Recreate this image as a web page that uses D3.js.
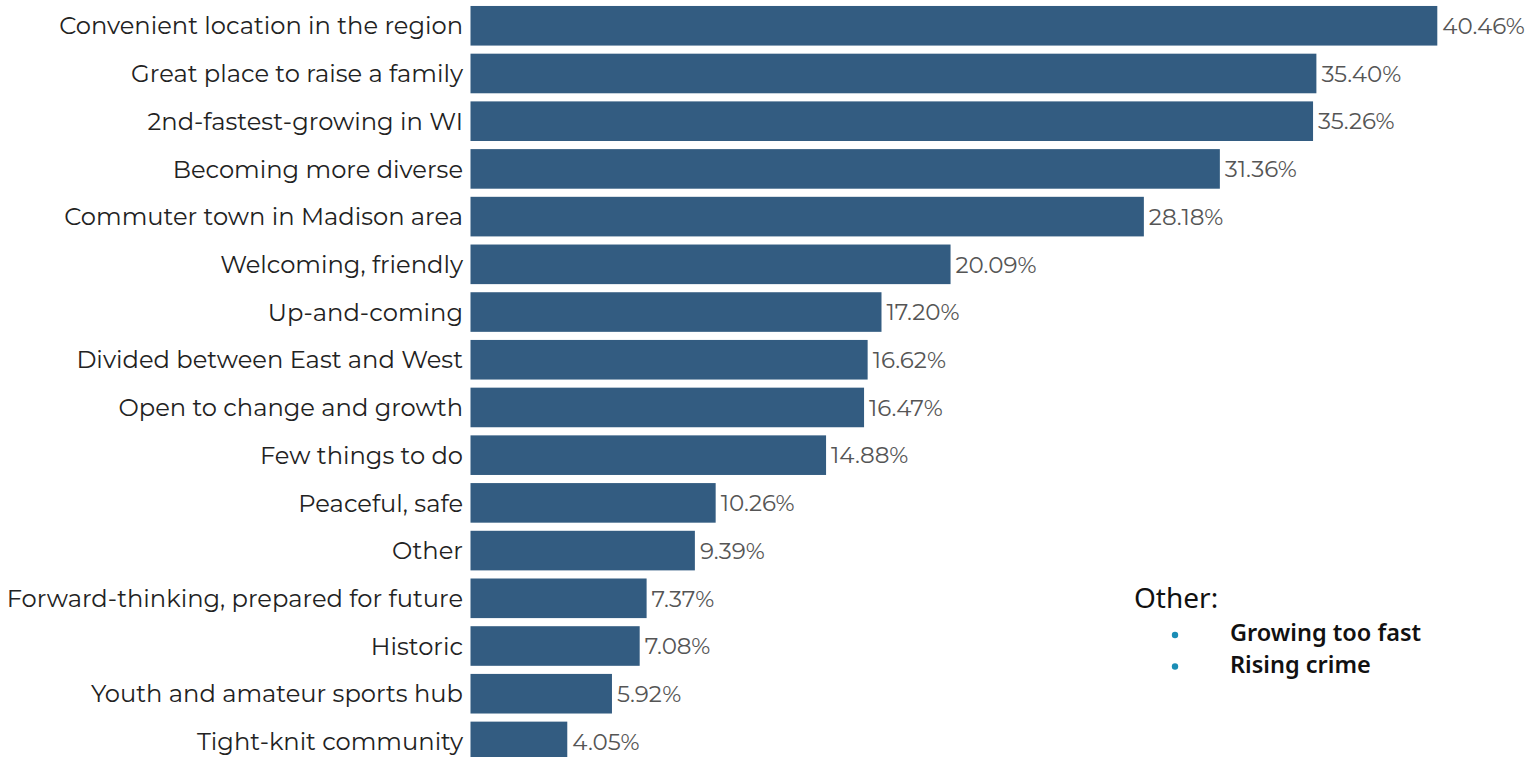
<!DOCTYPE html>
<html>
<head>
<meta charset="utf-8">
<script src="https://cdn.jsdelivr.net/npm/d3@7"></script>
<style>
  html, body { margin: 0; padding: 0; background: #fff; }
  svg { display: block; }
</style>
</head>
<body>
<svg id="chart" width="1540" height="757"></svg>
<script>
// Survey responses: how residents describe the city (share of respondents, %)
const categories = [
  "Convenient location in the region",
  "Great place to raise a family",
  "2nd-fastest-growing in WI",
  "Becoming more diverse",
  "Commuter town in Madison area",
  "Welcoming, friendly",
  "Up-and-coming",
  "Divided between East and West",
  "Open to change and growth",
  "Few things to do",
  "Peaceful, safe",
  "Other",
  "Forward-thinking, prepared for future",
  "Historic",
  "Youth and amateur sports hub",
  "Tight-knit community"
];
const values = [40.46, 35.40, 35.26, 31.36, 28.18, 20.09, 17.20, 16.62, 16.47, 14.88, 10.26, 9.39, 7.37, 7.08, 5.92, 4.05];
const otherTitle = "Other:";
const otherItems = ["Growing too fast", "Rising crime"];

const svg = d3.select("#chart");

const x = d3.scaleLinear().domain([0, 40.46]).range([470.5, 1437.3]);
const y = d3.scaleBand()
  .domain(categories)
  .range([1.2, 766.0])
  .paddingInner(0.17)
  .paddingOuter(0.1);

const labelFont = "Montserrat, 'DejaVu Sans', sans-serif";

const rows = svg.append("g").selectAll("g")
  .data(categories.map((c, i) => ({ c, v: values[i] })))
  .join("g");

rows.append("rect")
  .attr("x", x(0))
  .attr("y", d => y(d.c))
  .attr("width", d => x(d.v) - x(0))
  .attr("height", y.bandwidth())
  .attr("fill", "#335c81");

rows.append("text")
  .attr("x", 463)
  .attr("y", d => y(d.c) + y.bandwidth() / 2)
  .attr("dy", "0.36em")
  .attr("text-anchor", "end")
  .attr("font-family", labelFont)
  .attr("font-size", 24.2)
  .attr("fill", "#222")
  .text(d => d.c);

rows.append("text")
  .attr("x", d => x(d.v) + 5)
  .attr("y", d => y(d.c) + y.bandwidth() / 2)
  .attr("dy", "0.36em")
  .attr("font-family", labelFont)
  .attr("font-size", 23)
  .attr("fill", "#555")
  .text(d => d.v.toFixed(2) + "%");

// Note listing what "Other" contains
const note = svg.append("g").attr("font-family", "'Noto Sans', sans-serif");
note.append("text")
  .attr("x", 1134)
  .attr("y", 608)
  .attr("font-size", 28)
  .attr("fill", "#111")
  .text(otherTitle);

const items = note.selectAll("g.item")
  .data(otherItems)
  .join("g")
  .attr("class", "item")
  .attr("transform", (d, i) => `translate(0, ${i * 31.5})`);

items.append("circle")
  .attr("cx", 1175)
  .attr("cy", 635)
  .attr("r", 3.2)
  .attr("fill", "#1a8db5");

items.append("text")
  .attr("x", 1230)
  .attr("y", 641)
  .attr("font-size", 23.5)
  .attr("font-weight", 600)
  .attr("fill", "#111")
  .text(d => d);
</script>
</body>
</html>
